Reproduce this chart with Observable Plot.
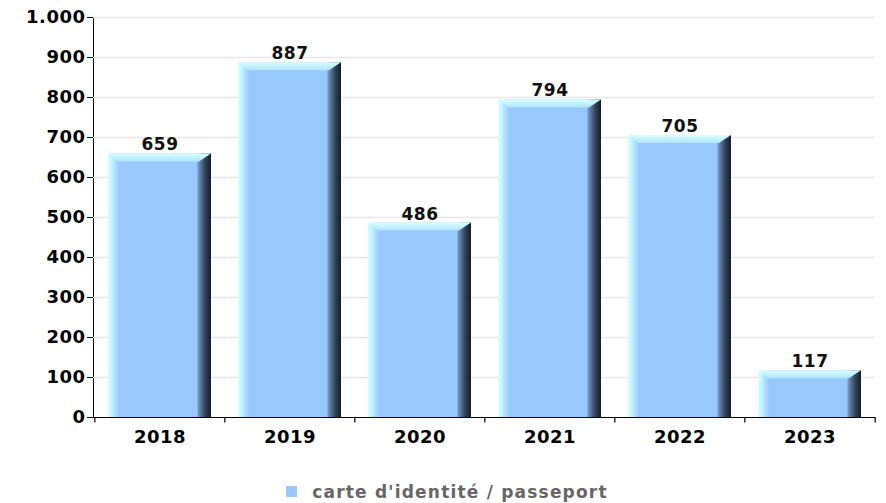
<!DOCTYPE html>
<html><head><meta charset="utf-8">
<script src="https://cdn.jsdelivr.net/npm/d3@7"></script>
<script src="https://cdn.jsdelivr.net/npm/@observablehq/plot@0.6"></script>
<style>
body{margin:0;background:#fff;font-family:"DejaVu Sans",sans-serif;}
#chart svg{display:block;}
#legend{height:43px;margin-top:10px;display:flex;align-items:center;justify-content:center;padding-left:8px;}
#legend .sw{width:11px;height:11px;background:#99c8ff;margin-right:15px;}
#legend .lb{font-size:17px;font-weight:bold;color:#666;letter-spacing:1.2px;}
</style>
</head><body>
<div id="chart"></div>
<div id="legend"><span class="sw"></span><span class="lb" id="lbl"></span></div>
<script>
const years = ["2018", "2019", "2020", "2021", "2022", "2023"];
const values = [659, 887, 486, 794, 705, 117];
const seriesName = "carte d'identité / passeport";
const yDomain = [0, 1000];

const data = years.map((y, i) => ({year: y, value: values[i]}));
const fmt = d3.formatLocale({decimal: ",", thousands: ".", grouping: [3], currency: ["", "€"]}).format(",d");

const W = 886, H = 460, mL = 93, mR = 11, mT = 17, mB = 43;
const step = (W - mL - mR) / years.length;

const plot = Plot.plot({
  width: W, height: H,
  marginLeft: mL, marginRight: mR, marginTop: mT, marginBottom: mB,
  style: {fontFamily: "DejaVu Sans", fontSize: "18px", fontWeight: "bold", color: "#000", background: "#fff", overflow: "visible", letterSpacing: "0.5px"},
  x: {domain: years, paddingInner: 0.21, paddingOuter: 0.105, label: null, tickSize: 0, tickPadding: 13},
  y: {domain: yDomain, ticks: 10, tickFormat: fmt, label: null, tickSize: 6, tickPadding: 2, line: true},
  marks: [
    Plot.ruleY(d3.ticks(yDomain[0], yDomain[1], 10).slice(1), {stroke: "#e8e8e8", strokeWidth: 1.5}),
    Plot.barY(data, {x: "year", y: "value", fill: "#99c8ff"}),
    Plot.ruleY([0], {stroke: "#000", strokeWidth: 1.2}),
    Plot.ruleX(years, {x: d => d, y1: 0, y2: -14, dx: -step / 2, stroke: "#000", strokeWidth: 1.2}),
    Plot.ruleX(years.slice(-1), {x: d => d, y1: 0, y2: -14, dx: step / 2, stroke: "#000", strokeWidth: 1.2}),
    Plot.text(data, {x: "year", y: "value", text: d => String(d.value), dy: -9, fontSize: 17, fontWeight: "bold", fill: "#111"})
  ]
});
document.getElementById("chart").appendChild(plot);
document.getElementById("lbl").textContent = seriesName;

// 3D bevel styling of bars produced by Plot
const svg = plot.tagName.toLowerCase() === "svg" ? plot : plot.querySelector("svg");
const NS = "http://www.w3.org/2000/svg";
const defs = document.createElementNS(NS, "defs");
defs.innerHTML = `
<linearGradient id="face" x1="0" y1="0" x2="1" y2="0">
  <stop offset="0" stop-color="#d6ffff"/>
  <stop offset="0.03" stop-color="#c6f6ff"/>
  <stop offset="0.11" stop-color="#99c8ff"/>
  <stop offset="0.86" stop-color="#99c8ff"/>
  <stop offset="0.88" stop-color="#6d8fb8"/>
  <stop offset="0.94" stop-color="#34465e"/>
  <stop offset="1" stop-color="#141c26"/>
</linearGradient>
<linearGradient id="topg" x1="0" y1="0" x2="0" y2="1">
  <stop offset="0" stop-color="#d8ffff"/>
  <stop offset="1" stop-color="#b0e4ff"/>
</linearGradient>`;
svg.insertBefore(defs, svg.firstChild);
svg.querySelectorAll('g[aria-label="bar"] rect').forEach(r => {
  const x = +r.getAttribute("x"), y = +r.getAttribute("y"), w = +r.getAttribute("width"), h = +r.getAttribute("height");
  r.setAttribute("fill", "url(#face)");
  const t = Math.min(8, h), b = 12, bl = 10;
  const p = document.createElementNS(NS, "polygon");
  p.setAttribute("points", `${x},${y} ${x + w},${y} ${x + w - b},${y + t} ${x + bl},${y + t}`);
  p.setAttribute("fill", "url(#topg)");
  r.parentNode.appendChild(p);
});
</script>
</body></html>
